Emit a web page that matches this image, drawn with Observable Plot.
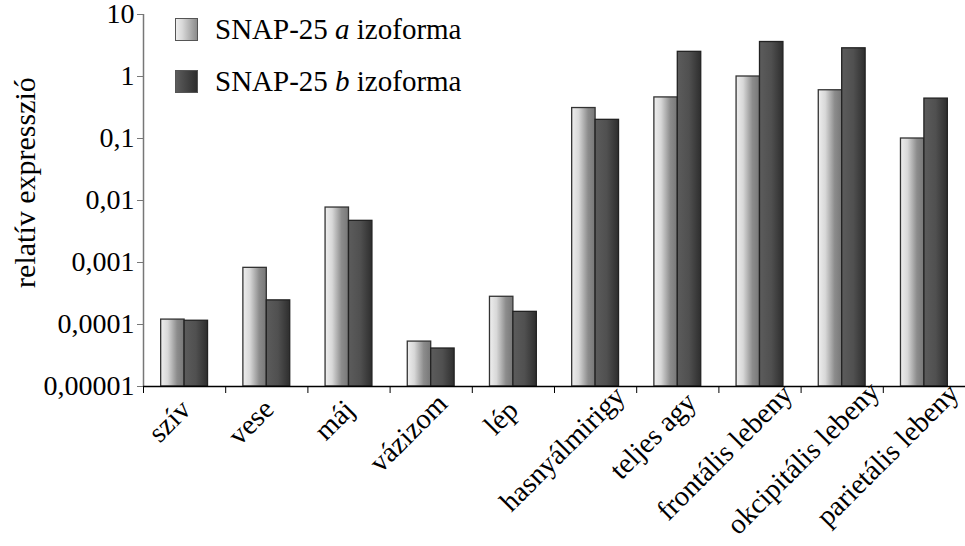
<!DOCTYPE html>
<html>
<head>
<meta charset="utf-8">
<script src="https://cdn.jsdelivr.net/npm/d3@7"></script>
<script src="https://cdn.jsdelivr.net/npm/@observablehq/plot@0.6"></script>
<style>
  html, body { margin: 0; padding: 0; background: white; }
  #wrap { position: relative; width: 965px; height: 546px; font-family: "Liberation Serif", serif; }
  #legend { position: absolute; left: 175px; top: 3px; font-size: 29px; color: #000; }
  .lg { display: flex; align-items: center; height: 52px; }
  .sw { width: 23px; height: 23px; box-sizing: border-box; border: 1.5px solid #555; margin-right: 17px; }
</style>
</head>
<body>
<div id="wrap">
  <div id="chart"></div>
  <div id="legend"></div>
</div>
<script>
// ---- data ----
const categories = ["szív", "vese", "máj", "vázizom", "lép", "hasnyálmirigy", "teljes agy", "frontális lebeny", "okcipitális lebeny", "parietális lebeny"];
const isoformA = [1.2e-4, 8.2e-4, 7.7e-3, 5.3e-5, 2.8e-4, 0.31, 0.46, 1.0, 0.60, 0.10];
const isoformB = [1.15e-4, 2.45e-4, 4.7e-3, 4.1e-5, 1.6e-4, 0.20, 2.5, 3.6, 2.85, 0.44];
const seriesNames = ["a", "b"];
const yTicks = [1e-5, 1e-4, 1e-3, 1e-2, 1e-1, 1, 10];
const yTickLabels = ["0,00001", "0,0001", "0,001", "0,01", "0,1", "1", "10"];
const yLabel = "relatív expresszió";

// ---- build table ----
const barW = 0.285;
const rows = [];
categories.forEach((c, i) => {
  rows.push({i, cat: c, series: "a", value: isoformA[i], x1: i - barW, x2: i});
  rows.push({i, cat: c, series: "b", value: isoformB[i], x1: i, x2: i + barW});
});
const boundaries = d3.range(categories.length + 1).map(k => k - 0.5);
const idx = d3.range(categories.length);
const FF = "'Liberation Serif', serif";

const plot = Plot.plot({
  width: 965,
  height: 546,
  marginLeft: 143,
  marginRight: 0,
  marginTop: 14,
  marginBottom: 160,
  style: {fontFamily: FF, fontSize: "28px", background: "white", color: "black", overflow: "visible"},
  x: {type: "linear", domain: [-0.5, categories.length - 0.5]},
  y: {type: "log", domain: [1e-5, 10]},
  marks: [
    Plot.rectY(rows.filter(d => d.series === "a"), {x1: "x1", x2: "x2", y1: () => 1e-5, y2: "value", fill: "url(#gradA)", stroke: "#333", strokeWidth: 1.3}),
    Plot.rectY(rows.filter(d => d.series === "b"), {x1: "x1", x2: "x2", y1: () => 1e-5, y2: "value", fill: "url(#gradB)", stroke: "#222", strokeWidth: 1.3}),
    Plot.ruleX([-0.5], {stroke: "#777", strokeWidth: 1.5}),
    Plot.axisY({ticks: yTicks, tickFormat: (d) => yTickLabels[yTicks.indexOf(d)], tickSize: 6, tickPadding: 3, stroke: "#777", fontSize: 28, label: null}),
    Plot.ruleY([1e-5], {stroke: "#000", strokeWidth: 1.5}),
    Plot.axisX({ticks: boundaries, tickFormat: () => "", tickSize: 7, stroke: "#000", label: null}),
    Plot.axisX({ticks: idx, tickFormat: (d) => categories[d], tickSize: 0, tickPadding: 19, tickRotate: -45, fontSize: 28.5, label: null}),
    Plot.text([yLabel], {frameAnchor: "left", textAnchor: "middle", rotate: -90, dx: -118, dy: -18, fontSize: 30, fill: "#000"})
  ]
});

// gradients
const ns = "http://www.w3.org/2000/svg";
const defs = document.createElementNS(ns, "defs");
defs.innerHTML = `
  <linearGradient id="gradA" x1="0" x2="1" y1="0" y2="0">
    <stop offset="0" stop-color="#eeeeee"/>
    <stop offset="0.3" stop-color="#d8d8d8"/>
    <stop offset="0.7" stop-color="#8c8c8c"/>
    <stop offset="1" stop-color="#777777"/>
  </linearGradient>
  <linearGradient id="gradB" x1="0" x2="1" y1="0" y2="0">
    <stop offset="0" stop-color="#5c5c5c"/>
    <stop offset="0.5" stop-color="#505050"/>
    <stop offset="1" stop-color="#2e2e2e"/>
  </linearGradient>`;
plot.insertBefore(defs, plot.firstChild);
document.getElementById("chart").appendChild(plot);

// longer rotated category labels sit a little up and to the right (as in the original layout)
const svgTop = plot.getBoundingClientRect().top;
const catSet = new Set(categories);
plot.querySelectorAll("text").forEach(t => {
  if (!catSet.has(t.textContent.trim())) return;
  const L = t.getComputedTextLength();
  const extra = Math.max(0, L - 40);
  const sx = 0.2 * extra, sy = -0.116 * extra;
  const tr = t.getAttribute("transform") || "";
  t.setAttribute("transform", `translate(${sx},${sy}) ` + tr);
  const bottom = t.getBoundingClientRect().bottom - svgTop;
  const limit = 541;
  if (bottom > limit) {
    const along = (bottom - limit) / Math.SQRT1_2;
    t.setAttribute("transform", `translate(${sx},${sy}) ` + tr + ` translate(${along},0)`);
  }
});

// legend
const legend = document.getElementById("legend");
const swFill = {a: "linear-gradient(to right, #eeeeee, #d8d8d8 30%, #8c8c8c 100%)", b: "linear-gradient(to right, #5c5c5c, #2e2e2e)"};
seriesNames.forEach(s => {
  const row = document.createElement("div");
  row.className = "lg";
  row.innerHTML = `<div class="sw" style="background:${swFill[s]}"></div><span>SNAP-25 <i>${s}</i> izoforma</span>`;
  legend.appendChild(row);
});
</script>
</body>
</html>
